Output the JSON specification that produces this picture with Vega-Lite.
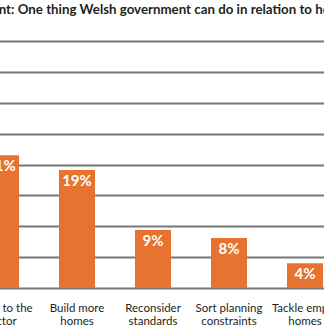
{
  "$schema": "https://vega.github.io/schema/vega-lite/v6.json",
  "width": 324,
  "height": 247,
  "autosize": {"type": "none"},
  "padding": {"left": 0, "top": 41, "right": 0, "bottom": 43},
  "background": "white",
  "title": {
    "text": "Statement: One thing Welsh government can do in relation to housing",
    "anchor": "start",
    "dx": -19,
    "offset": 25,
    "font": "Lato",
    "fontSize": 13.3,
    "fontWeight": "bold",
    "color": "#231f20"
  },
  "config": {"view": {"stroke": null}},
  "data": {
    "values": [
      {"statement": "Listen to the|sector", "share": 21.5, "label": "21%"},
      {"statement": "Build more|homes", "share": 19.1, "label": "19%"},
      {"statement": "Reconsider|standards", "share": 9.4, "label": "9%"},
      {"statement": "Sort planning|constraints", "share": 8.1, "label": "8%"},
      {"statement": "Tackle empty|homes", "share": 4.0, "label": "4%"}
    ]
  },
  "encoding": {
    "x": {
      "field": "statement",
      "type": "nominal",
      "sort": null,
      "scale": {"range": [-37, 343], "paddingInner": 0.526, "paddingOuter": 0.263},
      "axis": {
        "title": null,
        "labelExpr": "split(datum.label, '|')",
        "labelFont": "Lato",
        "labelFontSize": 11.5,
        "labelColor": "#231f20",
        "labelPadding": 14,
        "labelLineHeight": 13,
        "labelAngle": 0,
        "ticks": false,
        "domain": false,
        "labelOverlap": false
      }
    },
    "y": {
      "field": "share",
      "type": "quantitative",
      "scale": {"domain": [0, 40], "nice": false},
      "axis": {
        "title": null,
        "grid": true,
        "gridColor": "#777777",
        "gridWidth": 2,
        "values": [0, 5, 10, 15, 20, 25, 30, 35, 40],
        "labels": false,
        "ticks": false,
        "domain": false
      }
    }
  },
  "layer": [
    {"mark": {"type": "bar", "color": "#E8722F"}},
    {
      "mark": {"type": "text", "color": "white", "font": "Lato", "fontSize": 15, "fontWeight": "bold", "baseline": "middle", "dy": 11},
      "encoding": {"text": {"field": "label"}}
    }
  ]
}
